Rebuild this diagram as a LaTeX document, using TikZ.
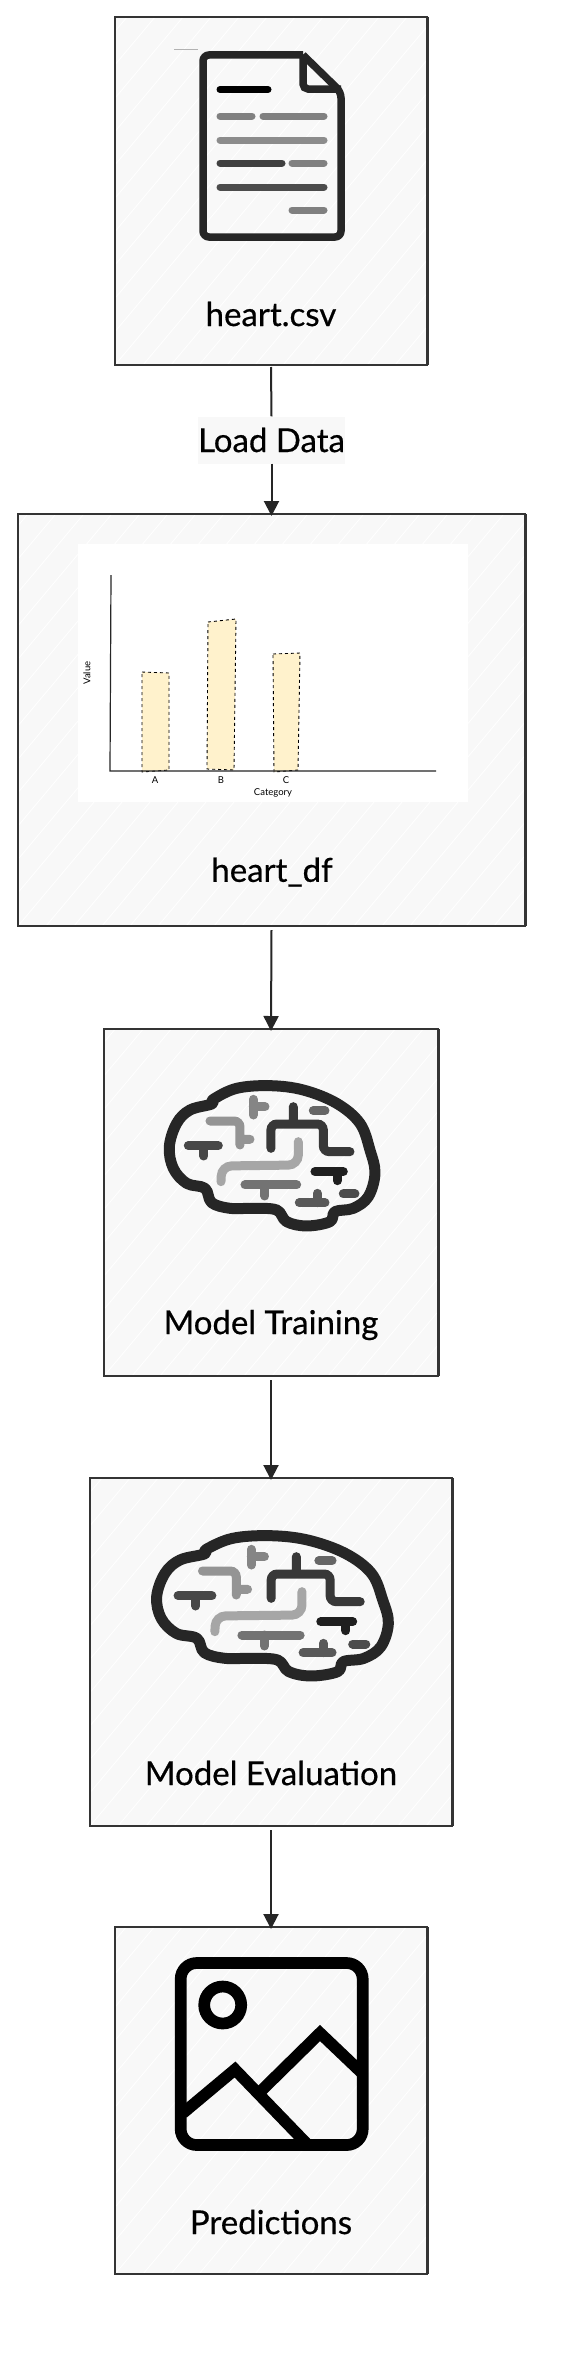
\documentclass[tikz,border=0pt]{standalone}
\usepackage{fontspec}
\setmainfont{Lato}
\newfontfamily\sketchfont[FakeBold=0.5]{Lato}
\usepackage{xcolor}
\usetikzlibrary{arrows.meta,positioning,calc}
\definecolor{cardgray}{RGB}{248,248,248}
\definecolor{edgegray}{RGB}{52,52,52}
\definecolor{barcream}{RGB}{255,242,204}
% one sketched card: fill, white hachures, then its edge
\newcommand{\hachurecard}[1]{
  \begin{scope}
    \clip (#1.south west) rectangle (#1.north east);
    \foreach \k in {0,28,...,3000}
      \draw[hachure] ($(#1.south west)+(\k-700,0)$) -- ++(700,-834);
  \end{scope}
  \draw[cardedge] (#1.south west) rectangle (#1.north east);
  \draw[cardedge,line width=3pt] (#1.north east) -- (#1.south east);
}
% brain icon, drawn in a 1080 wide local grid
\newcommand{\brainicon}[3]{
  \begin{scope}[shift={(#1,#2)},xscale=#3,yscale=0.3333]
    \draw[brainline] plot[smooth cycle,tension=0.6] coordinates {
      (370,268) (440,235) (540,227) (640,240) (740,280) (810,340)
      (840,420) (855,490) (835,560) (790,595) (735,605) (720,635)
      (650,648) (590,635) (560,600) (490,595) (420,595) (365,578)
      (345,535) (290,520) (250,475) (238,410) (260,340) (300,300)
      (365,282)};
    \draw[trace,black!72] (295,407) -- (385,407) (342,407) -- (342,438);
    \draw[trace,black!42] (360,333) -- (450,333) -- (450,405)
                          (450,388) -- (480,388);
    \draw[trace,black!48] (490,268) -- (490,315) (490,290) -- (525,290);
    \draw[trace,black!78] (543,415) -- (543,342) -- (700,342) -- (700,425)
                          -- (780,425) (610,342) -- (610,290);
    \draw[trace,black!60] (670,302) -- (705,302);
    \draw[trace,black!35,rounded corners=10pt]
      (625,395) -- (625,465) -- (395,468) -- (393,515);
    \draw[trace,black!55] (465,525) -- (620,525) (525,525) -- (525,558);
    \draw[trace,black!88] (675,485) -- (760,485) (742,485) -- (742,512);
    \draw[trace,black!65] (628,578) -- (705,578) (682,578) -- (682,550);
    \draw[trace,black!70] (760,552) -- (795,552);
  \end{scope}
}

\begin{document}
\begin{tikzpicture}[
  x=1pt,y=-1pt,
  >=Stealth,
  card/.style={fill=cardgray,inner sep=0pt,outer sep=0pt},
  cardedge/.style={draw=edgegray,line width=2.4pt},
  hachure/.style={white,line width=0.8pt},
  cardlabel/.style={font=\sketchfont\fontsize{33}{40}\selectfont,text=black},
  flow/.style={draw=black!85,line width=2pt},
  flowhead/.style={flow,-{Stealth[length=15pt,width=15pt,inset=0pt]}},
  docline/.style={line width=7pt,line cap=round},
  brainline/.style={draw=black!85,line width=11pt,line join=round},
  trace/.style={line width=9pt,line cap=round,rounded corners=6pt},
  photoline/.style={draw=black,line width=11.7pt},
  chartlabel/.style={font=\fontsize{9.5}{11}\selectfont,text=black},
  barbox/.style={draw=black,fill=barcream,dashed,line width=0.9pt},
]
\useasboundingbox (0,0) rectangle (560,2358);
\fill[white] (0,0) rectangle (560,2358);

%% ── Cards ────────────────────────────────────────────────────────────────────
\node[card,minimum width=312pt,minimum height=348pt] (csv)   at (271,191) {};
\node[card,minimum width=507pt,minimum height=412pt] (df)    at (271.5,720) {};
\node[card,minimum width=334pt,minimum height=347pt] (train) at (271,1202.5) {};
\node[card,minimum width=362pt,minimum height=348pt] (eval)  at (271,1652) {};
\node[card,minimum width=312pt,minimum height=347pt] (pred)  at (271,2100.5) {};
\hachurecard{csv}
\hachurecard{df}
\hachurecard{train}
\hachurecard{eval}
\hachurecard{pred}

%% ── Labels ───────────────────────────────────────────────────────────────────
\node[cardlabel] (csvlabel)   at (271,314)  {heart.csv};
\node[cardlabel] (dflabel)    at (272,872)  {heart\_df};
\node[cardlabel] (trainlabel) at (271,1325) {Model Training};
\node[cardlabel] (evallabel)  at (271,1773) {Model Evaluation};
\node[cardlabel] (predlabel)  at (271,2222) {Predictions};

%% ── Connectors ───────────────────────────────────────────────────────────────
\node[fill=cardgray,minimum width=145pt,minimum height=47pt,inner sep=0pt,
      font=\sketchfont\fontsize{33}{40}\selectfont] (load) at (271.5,440) {Load Data};
\draw[flow] ([yshift=-2pt]csv.south) -- (load.north);
\draw[flowhead] (load.south) -- ([yshift=-2pt]df.north);
\draw[flowhead] ([yshift=-4pt]df.south) -- ([yshift=-2pt]train.north);
\draw[flowhead] ([yshift=-4pt]train.south) -- ([yshift=-2pt]eval.north);
\draw[flowhead] ([yshift=-4pt]eval.south) -- ([yshift=-2pt]pred.north);

%% ── File icon ────────────────────────────────────────────────────────────────
\draw[draw=black!30,line width=0.8pt] (174,49) -- (198,49);
\draw[draw=black!85,line width=7.5pt,rounded corners=6pt]
  (303,55) -- (203,55) -- (203,237) -- (341,237) -- (341,92) -- (303,55);
\draw[draw=black!85,line width=7.5pt,rounded corners=5pt]
  (303,55) -- (303,89) -- (341,89);
\draw[docline,black] (220,89.5) -- (268,89.5);
\draw[docline,black!50] (220,116) -- (252,116);
\draw[docline,black!50] (263,116) -- (324,116);
\draw[docline,black!45] (220,140) -- (324,140);
\draw[docline,black!75] (220,163) -- (282,163);
\draw[docline,black!50] (292,163) -- (324,163);
\draw[docline,black!70] (220,187) -- (324,187);
\draw[docline,black!50] (292,210) -- (324,210);

%% ── Chart picture ────────────────────────────────────────────────────────────
\fill[white] (78,544) rectangle (468,802);
\draw[barbox] (142,672) -- (169,673) -- (169,770) -- (142,772) -- cycle;
\draw[barbox] (208,622) -- (236,619) -- (234,770) -- (207,769) -- cycle;
\draw[barbox] (273,654) -- (300,653) -- (298,770) -- (274,772) -- cycle;
\draw[black!85,line width=1.2pt] (111,575) -- (110,771) -- (436,771);
\node[chartlabel,rotate=90] (ylabel) at (87,673) {Value};
\node[chartlabel] (tickA) at (155,780) {A};
\node[chartlabel] (tickB) at (221,780) {B};
\node[chartlabel] (tickC) at (286,780) {C};
\node[chartlabel] (xlabel) at (273,793) {Category};

%% ── Brain icons ──────────────────────────────────────────────────────────────
\brainicon{90}{1010}{0.3333}
\brainicon{67.3}{1460}{0.3755}

%% ── Picture icon ─────────────────────────────────────────────────────────────
\draw[photoline,rounded corners=16pt] (180.7,1963) rectangle (362.7,2145);
\draw[photoline] (222.7,2005) circle (18.5);
\draw[photoline,line join=miter] (183,2113) -- (235,2069.5) -- (306,2143);
\draw[photoline,line join=miter] (262,2090) -- (320,2033) -- (362,2073);

\end{tikzpicture}
\end{document}
